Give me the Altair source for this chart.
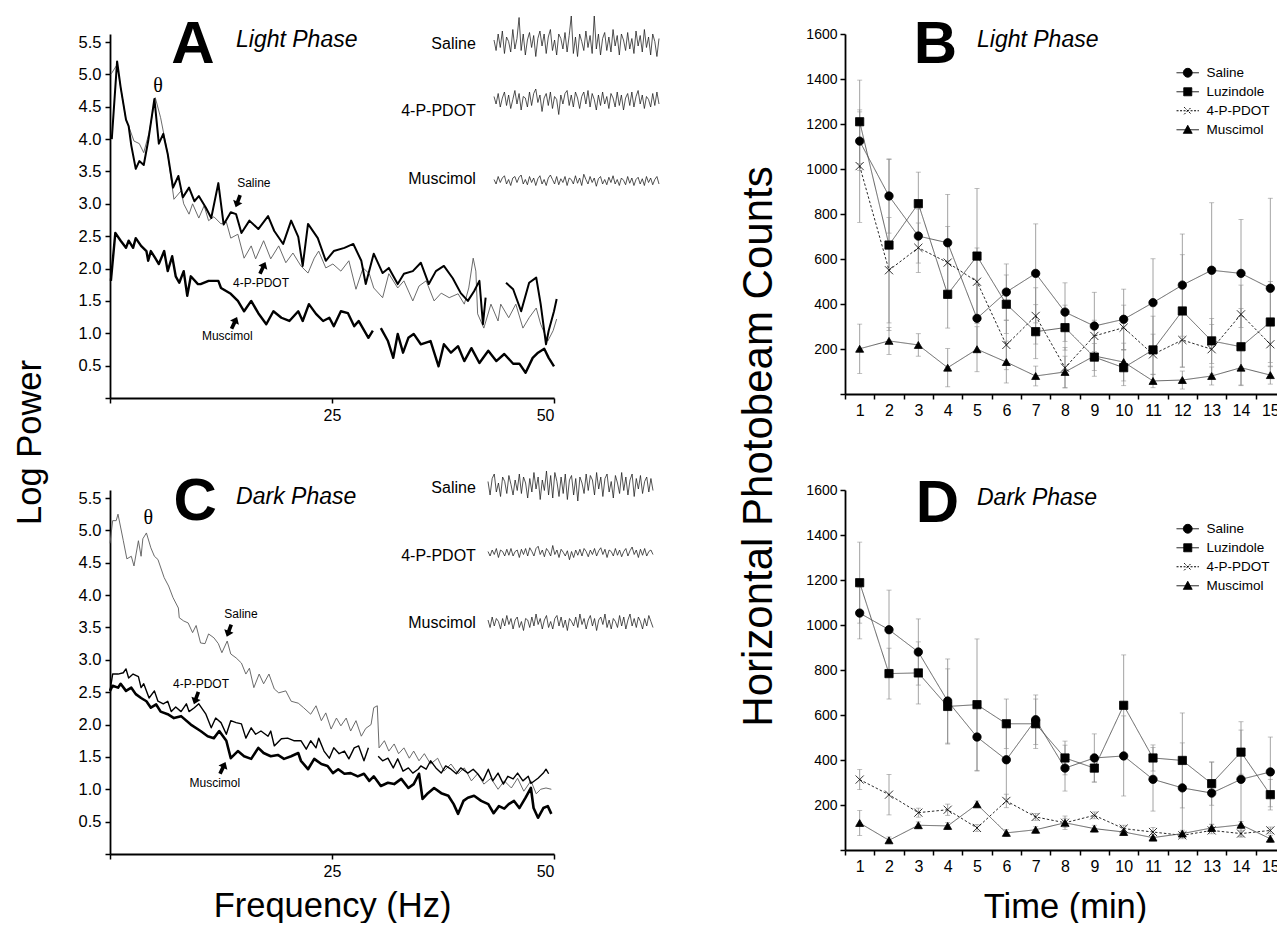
import altair as alt
import pandas as pd

FONT = "Liberation Sans"

# ---------------- EEG power spectra (Hz, log power) ----------------
# Panel A (light phase)
A_SAL_F = [[0.2,0.8,1.2,1.8,2.1,2.4,2.9,3.3,3.8,4.3,5.0,5.5,6.0,6.5,7.1,7.7,8.2,8.9,9.5,10.0,
            10.8,11.4,12.2,12.8,13.6,14.2,14.8,15.7,16.7,17.8,18.5,19.5,20.4,21.2,21.7,22.3,23.4,24.3,25.2,26.4,
            27.4,28.3,28.8,29.7,30.7,31.4,32.4,33.1,34.1,35.0,35.9,36.7,37.6,38.6,39.5,40.3,41.0,41.6,42.0,42.3],
           [44.6,45.4,46.3,47.2,48.0,48.5,49.1,49.4,50.0,50.3]]
A_SAL_V = [[4.0,5.2,4.8,4.3,4.2,3.9,3.54,3.66,3.6,3.97,4.62,3.93,4.08,3.77,3.25,3.43,3.1,3.25,3.04,3.12,
            2.94,2.78,3.32,2.68,2.87,2.84,2.55,2.74,2.61,2.81,2.58,2.38,2.74,2.49,2.04,2.69,2.47,2.12,2.27,2.32,
            2.38,2.12,1.76,2.23,1.93,2.01,1.76,1.92,1.96,2.09,1.76,1.96,2.04,1.85,1.62,1.5,1.65,1.81,1.14,1.55],
           [1.78,1.68,1.34,1.78,1.86,1.45,0.83,1.04,1.34,1.53]]
A_PDOT_F = [[0.1,0.8,1.2,1.8,2.1,2.7,3.3,3.8,4.4,5.1,5.7,6.5,7.2,8.0,8.3,8.9,9.3,10.0,10.6,11.1,
             11.7,12.5,13.1,13.6,14.4,15.1,15.9,16.4,17.3,18.1,19.0,19.8,20.6,21.5,22.3,23.0,23.5,24.3,25.1,26.0,
             26.9,27.7,28.5,29.2,29.7,30.7,31.4,32.4,33.1,34.1,34.8,35.6,36.5,37.3,38.2,39.2,39.9,40.4,40.9,41.2,
             41.4,42.1,42.9,43.7,44.0,44.9,45.7,46.5,47.2,48.0,48.5,49.3,49.9,50.3]]
A_PDOT_V = [[5.0,5.15,4.8,4.3,4.2,3.97,3.93,3.79,4.1,4.64,4.33,3.77,3.07,3.2,3.0,2.84,3.0,2.78,2.97,2.74,
             2.8,2.69,2.72,2.47,2.53,2.16,2.35,2.15,2.43,2.15,2.35,2.09,2.24,2.04,1.93,2.16,2.27,2.01,2.07,1.96,
             2.12,1.68,2.01,1.92,1.7,1.55,1.92,1.7,1.81,1.5,1.73,1.81,1.5,1.62,1.55,1.61,1.45,1.7,2.16,1.96,
             1.3,1.08,1.45,1.19,1.45,1.24,1.45,1.08,1.24,1.39,1.14,0.88,1.04,1.22]]
A_MUS_F = [[0.1,0.6,1.2,1.8,2.1,2.6,2.9,3.5,4.1,4.3,4.6,5.1,5.5,6.1,6.5,7.0,7.4,7.8,8.3,8.7,
            9.1,9.9,10.2,11.1,12.2,12.5,13.6,14.4,15.1,15.9,16.7,17.6,18.4,19.3,20.2,21.2,21.7,22.4,23.2,24.0,
            24.7,25.2,26.0,26.8,27.5,28.0,29.1,29.6],
           [30.5,31.3,31.9,32.4,33.0,33.6,34.2,35.0,36.1,37.0,37.6,38.4,39.2,39.9,40.7,41.6,42.6,43.5,44.4,45.4,
            46.1,46.8,47.6,48.2,48.9,49.4,50.0]]
A_MUS_V = [[1.81,2.55,2.43,2.32,2.43,2.32,2.47,2.35,2.27,2.12,2.27,2.16,2.07,2.27,1.96,2.19,1.88,1.78,1.96,1.58,
            1.88,1.76,1.76,1.81,1.81,1.7,1.61,1.5,1.34,1.5,1.31,1.14,1.34,1.24,1.19,1.34,1.19,1.45,1.3,1.19,
            1.24,1.11,1.34,1.31,1.11,1.19,0.93,1.04],
           [1.08,0.88,0.62,0.99,0.7,0.93,0.99,0.83,0.88,0.49,0.83,0.7,0.8,0.57,0.77,0.54,0.73,0.57,0.68,0.53,
            0.53,0.39,0.62,0.7,0.76,0.62,0.49]]

# Panel C (dark phase)
C_SAL_F = [[0.0,0.3,0.7,0.9,1.5,1.9,2.4,2.7,3.2,3.5,3.7,4.1,4.6,5.0,5.4,6.1,6.6,7.1,7.7,7.8,
            8.3,8.8,9.3,9.7,10.2,10.7,11.1,11.7,12.2,12.6,13.2,13.6,14.2,14.8,15.3,15.7,16.2,16.8,17.3,17.9,
            18.5,19.0,19.8,20.4,21.2,21.8,22.6,23.2,23.8,24.3,24.9,25.5,26.0,26.6,27.1,27.7,28.3,28.8,29.4,29.7,
            30.1,30.3,30.9,31.4,32.0,32.5,33.1,33.7,34.2,34.8,35.4,36.1,36.9,37.6,38.4,39.2,39.9,40.7,41.4,42.1,
            42.9,43.7,44.4,45.2,45.9,46.6,47.4,48.0,48.5,49.1,49.7]]
C_SAL_V = [[4.8,5.15,5.15,5.25,4.84,4.56,4.6,4.45,4.84,4.6,4.87,4.96,4.73,4.6,4.55,4.27,4.14,3.96,3.8,3.65,
            3.6,3.57,3.42,3.53,3.26,3.25,3.4,3.34,3.25,3.11,3.29,3.09,3.03,2.95,2.78,2.87,2.57,2.78,2.63,2.78,
            2.55,2.49,2.52,2.36,2.33,2.26,2.16,2.29,2.06,2.18,1.93,2.1,1.98,2.1,1.9,2.06,1.82,1.94,2.0,2.26,
            2.29,1.64,1.75,1.59,1.7,1.55,1.64,1.48,1.59,1.44,1.55,1.39,1.48,1.28,1.39,1.24,1.33,1.13,1.24,1.08,
            1.17,1.0,1.13,1.02,1.17,0.97,1.13,0.93,1.0,1.02,1.0]]
C_PDOT_F = [[0.0,0.3,0.9,1.5,1.8,2.1,2.6,3.2,3.5,3.8,4.4,5.0,5.4,6.0,6.5,6.9,7.4,8.0,8.6,8.9,
             9.5,10.0,10.8,11.4,11.9,12.5,13.1,13.6,14.2,14.8,15.3,15.9,16.4,17.0,17.8,18.1,18.5,19.3,20.0,20.7,
             21.5,22.1,22.6,23.2,23.5,24.1,24.7,25.2,25.8,26.4,26.9,27.5,28.0,28.6,29.1],
            [30.2,30.7,31.3,31.9,32.4,33.0,33.6,34.1,34.7,35.0,35.6,36.1,36.7,37.3,37.8,38.4,39.0,39.5,40.3,40.9,
             41.4,42.0,42.6,43.1,43.7,44.3,44.8,45.4,45.9,46.5,47.1,47.4,48.2,48.8,49.1,49.4]]
C_PDOT_V = [[2.52,2.78,2.78,2.8,2.86,2.72,2.78,2.74,2.57,2.63,2.41,2.52,2.36,2.32,2.36,2.2,2.27,2.2,2.32,2.2,
             2.26,2.32,2.16,1.95,2.1,2.03,1.85,2.06,2.03,2.01,1.79,1.95,1.85,1.9,1.82,1.9,1.67,1.78,1.79,1.75,
             1.75,1.62,1.75,1.64,1.79,1.59,1.48,1.64,1.55,1.59,1.47,1.64,1.67,1.44,1.64],
            [1.51,1.44,1.48,1.33,1.47,1.28,1.33,1.25,1.31,1.36,1.31,1.44,1.33,1.25,1.36,1.31,1.24,1.33,1.25,1.31,
             1.24,1.13,1.31,1.13,1.25,1.08,1.2,1.16,1.25,1.13,1.2,1.09,1.17,1.25,1.31,1.24]]
C_MUS_F = [[0.0,0.3,0.9,1.2,1.8,2.4,2.9,3.5,4.1,4.6,5.2,5.7,6.5,7.2,8.0,9.1,10.2,11.0,11.7,12.3,
            13.1,13.6,14.4,15.1,15.9,16.7,17.3,18.1,18.9,19.6,20.4,21.2,21.5,22.3,23.0,23.8,24.5,25.1,25.7,26.4,
            27.1,27.9,28.6,29.2,29.7,30.5,31.3,32.0,32.8,33.6,34.2,34.8,35.2,35.8,36.5,37.3,38.1,38.7,39.2,39.8,
            40.3,41.0,41.8,42.6,43.2,43.8,44.4,44.9,45.5,46.1,46.8,47.4,47.7,48.2,48.8,49.3,49.7]]
C_MUS_V = [[2.52,2.6,2.57,2.63,2.52,2.57,2.47,2.41,2.36,2.26,2.31,2.2,2.16,2.1,2.13,2.0,1.9,1.82,1.79,1.9,
            1.75,1.48,1.59,1.51,1.47,1.64,1.56,1.51,1.53,1.47,1.51,1.56,1.44,1.31,1.47,1.39,1.36,1.25,1.31,1.24,
            1.25,1.2,1.24,1.13,1.2,1.05,1.1,1.08,1.16,1.02,1.08,1.24,0.85,0.94,1.02,0.94,0.9,0.77,0.62,0.82,
            0.87,0.9,0.82,0.77,0.63,0.74,0.7,0.77,0.82,0.71,0.87,1.02,0.71,0.56,0.71,0.74,0.62]]

# ---------------- raw EEG trace excerpts (arbitrary units) ----------------
A_TR_SAL = [0.2,-0.5,0.6,-0.3,0.8,-0.7,0.4,0.1,-0.6,0.9,-0.4,0.3,1.7,-0.5,0.6,-0.8,0.2,0.7,-0.3,0.5,
            -0.9,0.3,0.8,-0.2,0.6,-0.7,0.4,0.9,-0.5,0.2,-0.8,0.6,0.3,-0.4,0.7,-0.6,0.5,1.8,-0.7,0.4,
            -0.9,0.6,0.1,-0.5,0.8,-0.3,0.5,-0.7,1.8,-0.4,0.6,-0.8,0.3,0.7,-0.5,0.4,-0.6,0.9,-0.2,0.5,
            -0.8,0.6,0.2,-0.5,0.7,-0.4,0.3,-0.7,0.8,-0.2,0.5,-0.6,0.9,-0.3,0.4,-0.8,0.6,0.1,-0.9,0.3]
A_TR_PDOT = [0.3,-0.2,0.5,-0.4,0.2,0.6,-0.3,0.4,-0.5,0.1,0.7,-0.2,0.5,-0.6,0.3,0.2,-0.4,0.6,-0.3,0.5,
             0.8,-0.1,0.4,-0.7,0.2,0.5,-0.3,0.6,-0.5,0.3,0.1,-0.9,0.4,-0.2,0.5,0.7,-0.3,0.4,-0.4,0.6,
             0.2,-0.5,0.3,0.6,-0.2,0.7,-0.4,0.5,0.1,-0.6,0.4,-0.3,0.6,-0.2,0.3,-0.5,0.5,0.2,-0.4,0.6,
             -0.3,0.4,-0.6,0.2,0.5,-0.3,0.6,-0.4,0.3,0.7,-0.2,0.4,-0.5,0.3,0.1,-0.4,0.5,-0.3,0.6,-0.2]
A_TR_MUS = [0.1,-0.2,0.3,-0.1,0.2,0.35,-0.2,0.1,-0.3,0.2,0.3,-0.1,0.25,0.4,-0.2,0.1,-0.25,0.3,-0.1,0.2,
            -0.3,0.15,0.35,-0.2,0.1,-0.3,0.2,0.4,0.1,-0.2,0.3,-0.25,0.15,-0.1,0.3,-0.3,0.2,0.1,-0.2,0.35,
            -0.15,0.2,-0.3,0.45,0.1,-0.2,0.3,-0.1,0.2,-0.35,0.15,0.3,-0.2,0.1,-0.25,0.25,-0.1,0.35,-0.2,0.1,
            -0.3,0.2,0.05,-0.25,0.3,-0.15,0.2,-0.3,0.1,0.25,-0.2,0.15,-0.3,0.3,-0.1,0.2,-0.25,0.1,0.3,-0.2]
C_TR_SAL = [0.3,-0.6,0.5,0.8,-0.4,0.2,-0.7,0.6,0.3,-0.5,0.7,0.1,-0.6,0.4,-0.3,0.8,-0.5,0.6,0.2,-0.8,
            0.5,-0.4,0.9,-0.2,0.6,-0.9,0.4,-0.3,1.0,-0.6,0.7,-0.8,0.9,0.3,-0.7,0.6,-0.5,0.8,-0.9,0.4,
            0.7,-0.6,0.5,-1.0,0.6,0.2,-0.5,0.8,-0.3,0.7,0.4,-0.6,0.9,-0.2,0.6,-0.7,0.5,0.8,-0.4,0.3,
            -0.8,0.7,0.2,-0.5,0.9,-0.3,0.6,-0.6,0.4,0.8,-0.7,0.5,-0.2,0.7,-0.5,0.3,0.6,-0.4,0.5,-0.3]
C_TR_PDOT = [0.1,-0.2,0.2,-0.1,0.3,-0.3,0.2,0.1,-0.2,0.25,-0.15,0.3,-0.2,0.1,0.2,-0.3,0.25,-0.1,0.3,-0.2,
             0.35,0.1,-0.2,0.3,0.45,-0.1,0.2,-0.25,0.3,0.1,-0.2,0.5,-0.1,0.2,-0.3,0.25,0.05,-0.2,0.15,-0.45,
             0.1,-0.3,0.2,-0.15,0.25,-0.2,0.3,0.1,-0.25,0.2,-0.1,0.3,-0.2,0.15,0.35,-0.1,0.25,-0.3,0.2,0.1,
             -0.2,0.3,-0.15,0.2,-0.25,0.1,0.3,-0.2,0.15,0.4,-0.1,0.2,-0.3,0.25,-0.15,0.3,-0.2,0.1,0.2,-0.1]
C_TR_MUS = [0.2,-0.3,0.4,-0.2,0.3,0.1,-0.4,0.3,-0.2,0.5,-0.1,0.3,-0.4,0.2,0.4,-0.3,0.1,-0.5,0.3,0.2,
            -0.3,0.4,-0.2,0.6,-0.1,0.3,-0.4,0.2,0.5,-0.3,0.1,-0.4,0.3,0.5,-0.2,0.4,-0.3,0.2,-0.5,0.3,
            0.1,-0.2,0.4,-0.3,0.6,-0.1,0.3,-0.4,0.2,0.5,-0.2,0.3,-0.5,0.2,0.4,-0.1,0.6,-0.3,0.2,-0.4,
            0.3,0.1,-0.3,0.5,-0.2,0.4,-0.4,0.2,0.6,-0.2,0.3,-0.3,0.4,0.1,-0.4,0.3,-0.2,0.5,0.1,-0.3]

# ---------------- photobeam counts (mean, SEM) per minute ----------------
SERIES = ["Saline", "Luzindole", "4-P-PDOT", "Muscimol"]
TIMES = list(range(1, 16))
B_MEAN = {
    "Saline":    [1124, 880, 702, 672, 336, 453, 536, 364, 302, 332, 406, 484, 550, 536, 470],
    "Luzindole": [1210, 662, 846, 443, 613, 399, 277, 295, 164, 117, 196, 369, 236, 210, 320],
    "4-P-PDOT":  [1013, 550, 650, 584, 499, 218, 347, 117, 258, 295, 176, 240, 199, 354, 221],
    "Muscimol":  [201, 236, 218, 117, 199, 142, 80, 98, 169, 142, 58, 62, 80, 117, 84],
}
B_SEM = {
    "Saline":    [130, 165, 120, 215, 150, 125, 220, 130, 150, 134, 195, 227, 300, 240, 400],
    "Luzindole": [185, 380, 140, 150, 300, 130, 120, 100, 60, 80, 150, 250, 100, 170, 180],
    "4-P-PDOT":  [250, 234, 110, 160, 150, 110, 125, 90, 70, 100, 90, 120, 110, 130, 100],
    "Muscimol":  [110, 60, 50, 85, 100, 93, 44, 70, 90, 84, 30, 40, 40, 80, 40],
}
D_MEAN = {
    "Saline":    [1053, 979, 880, 662, 502, 401, 579, 364, 409, 418, 314, 276, 253, 314, 347],
    "Luzindole": [1188, 784, 787, 638, 646, 561, 561, 409, 364, 643, 409, 398, 295, 435, 246],
    "4-P-PDOT":  [313, 246, 166, 179, 98, 218, 147, 121, 154, 95, 80, 65, 87, 73, 87],
    "Muscimol":  [120, 43, 110, 107, 203, 76, 90, 121, 95, 80, 55, 73, 98, 112, 50],
}
D_SEM = {
    "Saline":    [115, 176, 147, 187, 151, 174, 110, 102, 107, 178, 141, 200, 138, 256, 155],
    "Luzindole": [180, 113, 138, 167, 292, 110, 110, 75, 62, 224, 58, 211, 96, 98, 68],
    "4-P-PDOT":  [45, 90, 20, 25, 15, 30, 15, 20, 15, 15, 20, 15, 15, 15, 15],
    "Muscimol":  [56, 15, 15, 15, 15, 15, 15, 30, 15, 15, 15, 15, 15, 15, 15],
}

# ---------------- geometry / styles ----------------
SPEC_W, SPEC_H = 444, 364
YTOP = 5.5 + 8 / 64.727
CNT_W, CNT_H = 440, 360
TITLE_FS = 34.5

X_PATH = "M-1,-1L1,1M-1,1L1,-1"
ARROW = "M0,-1L0.75,-0.05L0.28,-0.05L0.28,1L-0.28,1L-0.28,-0.05L-0.75,-0.05Z"
LEG_PATHS = [
    "M-2.8,0H2.8M-1.1,0A1.1,1.1 0 1,0 1.1,0A1.1,1.1 0 1,0 -1.1,0Z",
    "M-2.8,0H2.8M-1,-1H1V1H-1Z",
    "M-2.8,0H2.8M-0.9,-0.9L0.9,0.9M-0.9,0.9L0.9,-0.9",
    "M-2.8,0H2.8M0,-1.1L1.1,0.9H-1.1Z",
]

ONE = alt.InlineData(values=[{}])


def spec_df(fsegs, vsegs):
    rows = []
    for k, (fs, vs) in enumerate(zip(fsegs, vsegs)):
        for f, v in zip(fs, vs):
            rows.append({"f": f, "v": v, "seg": k})
    return pd.DataFrame(rows)


SX = alt.Scale(domain=[0, 50], nice=False, zero=False)
SY = alt.Scale(domain=[0, YTOP], nice=False, zero=False)


def trace(vals, xr, yc):
    df = pd.DataFrame({"i": list(range(len(vals))), "a": vals})
    return alt.Chart(df).mark_line(color="#1a1a1a", strokeWidth=0.75).encode(
        x=alt.X("i:Q", scale=alt.Scale(domain=[0, len(vals) - 1], range=xr, nice=False, zero=False), axis=None),
        y=alt.Y("a:Q", scale=alt.Scale(domain=[-1, 1], range=[yc + 15, yc - 15], nice=False, zero=False), axis=None),
    )


def spectrum_panel(lines, letter, phase, theta, notes, labels_y, traces, xr, centers, xtitle, ytitle):
    ax_x = alt.Axis(values=[0, 25, 50], labelExpr="datum.value == 0 ? '' : datum.label",
                    tickSize=5, tickWidth=1.5, domainWidth=1.8, labelFontSize=16, labelPadding=4,
                    title=xtitle, titleFontSize=TITLE_FS, titleY=52, titleBaseline="middle")
    ax_y = alt.Axis(values=[i * 0.5 for i in range(12)], format=".1f",
                    labelExpr="datum.value == 0 ? '' : datum.label",
                    tickSize=5, tickWidth=1.5, domainWidth=1.8, labelFontSize=16.5, labelPadding=4,
                    title=ytitle, titleFontSize=TITLE_FS, titleX=-80, titleY=408, titleAngle=270,
                    titleAlign="center", titleBaseline="middle")

    def at(fx, vy):
        return dict(x=alt.XDatum(fx, scale=SX, axis=ax_x), y=alt.YDatum(vy, scale=SY, axis=ax_y))

    layers = []
    for df, color, w in lines:
        layers.append(alt.Chart(df).mark_line(color=color, strokeWidth=w, strokeJoin="round").encode(
            x=alt.X("f:Q", scale=SX, axis=ax_x), y=alt.Y("v:Q", scale=SY, axis=ax_y), detail="seg:N"))
    layers.append(alt.Chart(ONE).mark_text(text=letter[0], fontSize=60, fontWeight="bold", align="center",
                                           baseline="alphabetic").encode(**at(letter[1], letter[2])))
    layers.append(alt.Chart(ONE).mark_text(text=phase[0], fontSize=23, fontStyle="italic", align="left",
                                           baseline="alphabetic").encode(**at(phase[1], phase[2])))
    layers.append(alt.Chart(ONE).mark_text(text="θ", fontSize=20, font="Liberation Serif", align="center",
                                           baseline="middle").encode(**at(theta[0], theta[1])))
    for (txt, tx, ty, axx, ayy, ang) in notes:
        layers.append(alt.Chart(ONE).mark_text(text=txt, fontSize=12, align="center",
                                               baseline="middle").encode(**at(tx, ty)))
        layers.append(alt.Chart(ONE).mark_point(shape=ARROW, filled=True, color="black", opacity=1,
                                                size=170, angle=ang).encode(**at(axx, ayy)))
    for txt, ly in zip(["Saline", "4-P-PDOT", "Muscimol"], labels_y):
        layers.append(alt.Chart(ONE).mark_text(text=txt, fontSize=16, align="right",
                                               baseline="middle").encode(**at(41.2, ly)))
    spec = alt.layer(*layers)
    tr = [trace(vals, xr, c) for vals, c in zip(traces, centers)]
    return alt.layer(spec, *tr).resolve_scale(x="independent", y="independent").properties(
        width=SPEC_W, height=SPEC_H)


A = spectrum_panel(
    lines=[(spec_df(A_PDOT_F, A_PDOT_V), "#5a5a5a", 0.9),
           (spec_df(A_SAL_F, A_SAL_V), "black", 2.0),
           (spec_df(A_MUS_F, A_MUS_V), "black", 2.4)],
    letter=("A", 9.35, 5.175), phase=("Light Phase", 14.19, 5.42), theta=(5.4, 4.82),
    notes=[("Saline", 16.2, 3.32, 14.4, 3.04, 200),
           ("4-P-PDOT", 17.0, 1.78, 17.2, 2.01, 25),
           ("Muscimol", 13.2, 0.96, 14.0, 1.16, 25)],
    labels_y=[5.47, 4.43, 3.38],
    traces=[A_TR_SAL, A_TR_PDOT, A_TR_MUS], xr=[384, 549], centers=[9, 67, 147],
    xtitle=None, ytitle="Log Power")

C = spectrum_panel(
    lines=[(spec_df(C_SAL_F, C_SAL_V), "#5a5a5a", 0.9),
           (spec_df(C_PDOT_F, C_PDOT_V), "black", 1.4),
           (spec_df(C_MUS_F, C_MUS_V), "black", 2.6)],
    letter=("C", 9.6, 5.16), phase=("Dark Phase", 14.2, 5.41), theta=(4.3, 5.19),
    notes=[("Saline", 14.75, 3.71, 13.4, 3.45, 200),
           ("4-P-PDOT", 10.25, 2.63, 9.7, 2.41, 200),
           ("Muscimol", 11.8, 1.10, 12.7, 1.33, 25)],
    labels_y=[5.65, 4.60, 3.57],
    traces=[C_TR_SAL, C_TR_PDOT, C_TR_MUS], xr=[378, 543], centers=[-4, 63, 133],
    xtitle="Frequency (Hz)", ytitle=None)


def counts_df(mean, sem):
    rows = []
    for s in SERIES:
        for t, m, e in zip(TIMES, mean[s], sem[s]):
            rows.append({"series": s, "t": t, "v": m, "lo": max(m - e, 0), "hi": m + e})
    return pd.DataFrame(rows)


def counts_panel(mean, sem, letter, phase, xtitle, ytitle):
    df = counts_df(mean, sem)
    base = alt.Chart(df)
    xaxis = alt.Axis(tickBand="extent", labelAngle=0, labelFontSize=16, tickSize=5, tickWidth=1.5,
                     domainWidth=1.8, labelPadding=3, title=xtitle, titleFontSize=TITLE_FS, titleY=57,
                     titleBaseline="middle")
    yaxis = alt.Axis(values=list(range(0, 1601, 200)), format="d",
                     labelExpr="datum.value == 0 ? '' : datum.label",
                     tickSize=5, tickWidth=1.5, domainWidth=1.8, labelFontSize=14, labelPadding=3,
                     title=ytitle, titleFontSize=42, titleX=-87, titleY=412, titleAngle=270,
                     titleAlign="center", titleBaseline="middle")
    sx = alt.Scale(type="band", domain=TIMES, paddingInner=0, paddingOuter=0)
    sy = alt.Scale(domain=[0, 1600], nice=False)
    X = alt.X("t:O", scale=sx, axis=xaxis)

    def Yf(field):
        return alt.Y(field, type="quantitative", scale=sy, axis=yaxis)

    err = base.mark_rule(color="#8c8c8c", strokeWidth=0.8).encode(x=X, y=Yf("lo"), y2="hi:Q")
    cap_hi = base.mark_tick(color="#8c8c8c", thickness=0.8, size=5).encode(x=X, y=Yf("hi"))
    cap_lo = base.mark_tick(color="#8c8c8c", thickness=0.8, size=5).encode(x=X, y=Yf("lo"))
    lines = base.mark_line().encode(
        x=X, y=Yf("v"), detail="series:N",
        color=alt.Color("series:N", scale=alt.Scale(domain=SERIES, range=["#505050", "#505050", "#111111", "#505050"]), legend=None),
        strokeDash=alt.StrokeDash("series:N", scale=alt.Scale(domain=SERIES, range=[[1, 0], [1, 0], [2.5, 2], [1, 0]]), legend=None),
        strokeWidth=alt.StrokeWidth("series:N", scale=alt.Scale(domain=SERIES, range=[0.9, 0.9, 1.3, 0.9]), legend=None),
    )
    pts = base.mark_point(filled=True, color="black", stroke="black", strokeWidth=0.8, opacity=1).encode(
        x=X, y=Yf("v"),
        shape=alt.Shape("series:N", scale=alt.Scale(domain=SERIES, range=["circle", "square", X_PATH, "triangle-up"]), legend=None),
        size=alt.Size("series:N", scale=alt.Scale(domain=SERIES, range=[70, 64, 40, 70]), legend=None),
    )
    leg = alt.Legend(title=None, orient="none", legendX=336, legendY=32, labelFontSize=13.5, labelFont=FONT,
                     symbolSize=64, labelOffset=12, rowPadding=4, padding=0, symbolStrokeWidth=1,
                     symbolOpacity=1)
    black4 = alt.Scale(domain=SERIES, range=["black"] * 4)
    legend_layer = base.transform_filter("datum.t > 100").mark_point(
        filled=True, strokeWidth=1, opacity=1).encode(
        shape=alt.Shape("series:N", scale=alt.Scale(domain=SERIES, range=LEG_PATHS), legend=leg),
        strokeDash=alt.StrokeDash("series:N", scale=alt.Scale(domain=SERIES, range=[[1, 0], [1, 0], [2, 1.5], [1, 0]]), legend=leg),
        fill=alt.Fill("series:N", scale=black4, legend=leg),
        stroke=alt.Stroke("series:N", scale=black4, legend=leg),
    )
    t_letter = alt.Chart(ONE).mark_text(text=letter[0], fontSize=60, fontWeight="bold", align="center",
                                        baseline="alphabetic", dx=letter[2]).encode(
        x=alt.XDatum(letter[1], type="ordinal", scale=sx, axis=xaxis),
        y=alt.YDatum(letter[3], scale=sy, axis=yaxis))
    t_phase = alt.Chart(ONE).mark_text(text=phase[0], fontSize=23, fontStyle="italic", align="left",
                                       baseline="alphabetic", dx=phase[2]).encode(
        x=alt.XDatum(phase[1], type="ordinal", scale=sx, axis=xaxis),
        y=alt.YDatum(phase[3], scale=sy, axis=yaxis))
    return alt.layer(err, cap_hi, cap_lo, lines, pts, legend_layer, t_letter, t_phase).resolve_scale(
        shape="independent", strokeDash="independent", size="independent",
        fill="independent", stroke="independent").properties(width=CNT_W, height=CNT_H)


B = counts_panel(B_MEAN, B_SEM, ("B", 3, 17, 1471), ("Light Phase", 5, 0, 1542), None, "Horizontal Photobeam Counts")
D = counts_panel(D_MEAN, D_SEM, ("D", 3, 19, 1458), ("Dark Phase", 5, 0, 1533), "Time (min)", None)

chart = alt.concat(A, B, C, D, columns=2, spacing={"row": 92, "column": 291}, bounds="flush").properties(
    padding={"left": 4, "top": 6, "right": -9, "bottom": -1}
).configure_view(stroke=None).configure_axis(
    labelFont=FONT, titleFont=FONT, labelColor="black", titleColor="black", domainColor="black",
    tickColor="black", grid=False, titleFontWeight="normal"
).configure_text(font=FONT, color="black")

chart.save("out.html", embed_options={"renderer": "svg", "actions": False})
